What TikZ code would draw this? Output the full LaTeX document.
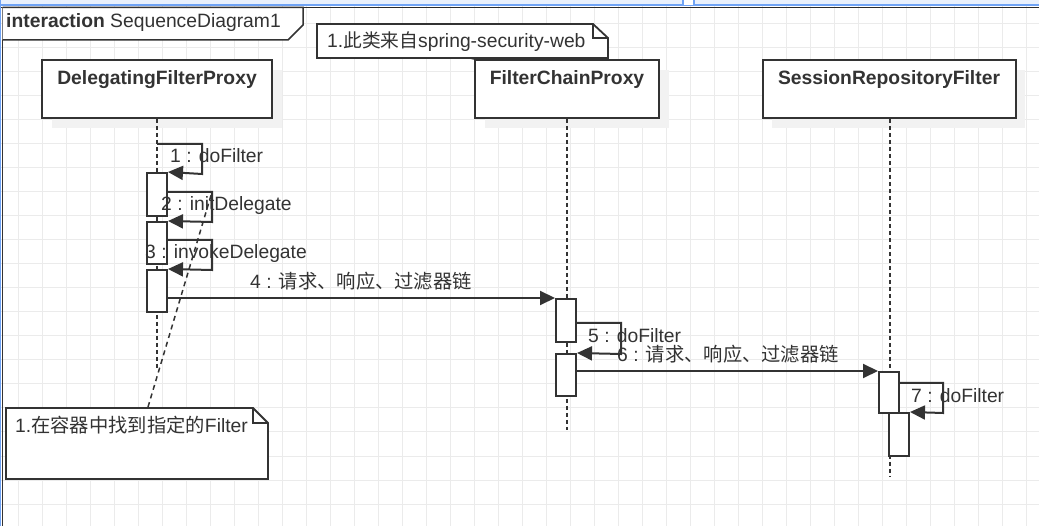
\documentclass[tikz,border=0pt]{standalone}
\usepackage{fontspec}
\setmainfont{Liberation Sans}
\newfontfamily\cjkA[Scale=1.0]{Noto Sans CJK SC}
\newfontfamily\cjkB[Scale=0.97]{Noto Sans CJK SC}
\usetikzlibrary{arrows.meta}
\definecolor{ink}{HTML}{333333}
\definecolor{gridc}{HTML}{EBEBEB}
\definecolor{shadowc}{HTML}{F2F2F2}
\definecolor{stripc}{HTML}{E8F0FC}
\definecolor{bluec}{HTML}{6FA3F5}
\begin{document}
\begin{tikzpicture}[x=1pt,y=-1pt,
  txt/.style={font=\fontsize{19.3}{23}\selectfont, inner sep=0pt, text=ink},
  lbl/.style={txt, anchor=base west},
  ttl/.style={txt, font=\fontsize{19.3}{23}\selectfont\bfseries, anchor=base},
  lifebox/.style={draw=ink, line width=2pt, fill=white, inner sep=0pt},
  act/.style={draw=ink, line width=2pt, fill=white, inner sep=0pt, minimum width=20pt},
  msg/.style={draw=ink, line width=2pt, -{Triangle[length=15pt,width=14pt]}},
  lifeline/.style={draw=ink, line width=1.5pt, dash pattern=on 4pt off 3pt},
  notelink/.style={draw=ink, line width=1.5pt, dash pattern=on 5pt off 4pt},
  noteshape/.style={draw=ink, line width=1.8pt, fill=white, line join=miter},
]
\useasboundingbox (0,0) rectangle (1039,526);
\fill[white] (0,0) rectangle (1039,526);
% grid
\foreach \i in {0,...,42} \draw[gridc, line width=1pt] (18+24*\i,0) -- (18+24*\i,526);
\foreach \j in {1,...,21} \draw[gridc, line width=1pt] (0,24*\j) -- (1039,24*\j);
% top strip and frame
\fill[stripc] (0,0) rectangle (1039,5);
\draw[bluec, line width=2pt] (0,5) -- (1039,5);
\fill[white] (683,0) rectangle (694,5);
\draw[bluec, line width=1.5pt] (683,0) -- (683,5) (694,0) -- (694,5);
\draw[ink!80!black, line width=1.5pt] (0,7.5) -- (1039,7.5);
\draw[bluec, line width=1.5pt] (0.7,0) -- (0.7,526);
\draw[ink, line width=1.5pt] (2.5,7.5) -- (2.5,526);
\draw[ink, line width=1.5pt, fill=white] (2.5,7.5) -- (303,7.5) -- (303,25) -- (288,40) -- (2.5,40);
\node[lbl] (frameT) at (6,28) {\textbf{interaction} SequenceDiagram1};
% shadows
\fill[shadowc] (52,70) rectangle (282,128);
\fill[shadowc] (485,70) rectangle (669,128);
\fill[shadowc] (772,70) rectangle (1025,128);
% lifeline boxes
\node[lifebox, minimum width=230pt, minimum height=58pt] (dfp) at (157,89) {};
\node[lifebox, minimum width=184pt, minimum height=58pt] (fcp) at (567,89) {};
\node[lifebox, minimum width=253pt, minimum height=58pt] (srf) at (889,89) {};
\node[ttl] (dfpT) at (157,85) {DelegatingFilterProxy};
\node[ttl] (fcpT) at (567,85) {FilterChainProxy};
\node[ttl] (srfT) at (889,85) {SessionRepositoryFilter};
% lifelines
\coordinate (dfpEnd) at (157,370);
\coordinate (fcpEnd) at (567,430);
\coordinate (srfEnd) at (890,477);
\draw[lifeline] (dfp.south) -- (dfpEnd);
\draw[lifeline] (fcp.south) -- (fcpEnd);
\draw[lifeline] ([xshift=1pt]srf.south) -- (srfEnd);
% activation boxes
\node[act, minimum height=43pt] (a) at (157,194.5) {};
\node[act, minimum height=42pt] (b) at (157,243) {};
\node[act, minimum height=42pt] (c) at (157,291) {};
\node[act, minimum height=43pt] (d) at (566,320.5) {};
\node[act, minimum height=42pt] (e) at (566,375) {};
\node[act, minimum height=41pt] (f) at (889,392.5) {};
\node[act, minimum height=43pt] (g) at (899,434.5) {};
% messages
\coordinate (m1s) at (157,144);
\draw[msg] (m1s) -- (202,144) -- (202,174) -- (a.north east);
\draw[msg] (a.east |- 0,192) -- (212,192) -- (212,222) -- (b.north east);
\draw[msg] (b.east |- 0,240) -- (212,240) -- (212,270) -- (c.north east);
\draw[msg] (c.east |- d.north) -- (d.north west);
\draw[msg] (d.east |- 0,323) -- (621,323) -- (621,354) -- (e.north east);
\draw[msg] (e.east |- f.north) -- (f.north west);
\draw[msg] (f.east |- 0,383) -- (943,383) -- (943,413) -- (g.north east);
% labels
\node[lbl] (l1) at (170,163) {1 : doFilter};
\node[lbl] (l2) at (161,211) {2 : initDelegate};
\node[lbl] (l3) at (145,259) {3 : invokeDelegate};
\node[lbl] (l4) at (250,289) {4 : {\cjkA 请求、响应、过滤器链}};
\node[lbl] (l5) at (588,343) {5 : doFilter};
\node[lbl] (l6) at (617,362) {6 : {\cjkA 请求、响应、过滤器链}};
\node[lbl] (l7) at (911,403) {7 : doFilter};
% note 1
\draw[noteshape] (317,24) -- (593,24) -- (608,38) -- (608,58) -- (317,58) -- cycle;
\draw[ink, line width=1.8pt] (593,24) -- (593,38) -- (608,38);
\node[lbl] (n1) at (327,48) {1.{\cjkB 此类来自}spring-security-web};
\coordinate (n1link) at (470,58);
\draw[notelink] (n1link) -- (fcp.north west);
% note 2
\draw[noteshape] (6,408) -- (253,408) -- (268,423) -- (268,479) -- (6,479) -- cycle;
\draw[ink, line width=1.8pt] (253,408) -- (253,423) -- (268,423);
\node[lbl] (n2) at (15,432) {1.{\cjkA 在容器中找到指定的}Filter};
\coordinate (n2link) at (148,407);
\coordinate (n2tgt) at (212,192);
\draw[notelink] (n2link) -- (n2tgt);
\end{tikzpicture}
\end{document}
